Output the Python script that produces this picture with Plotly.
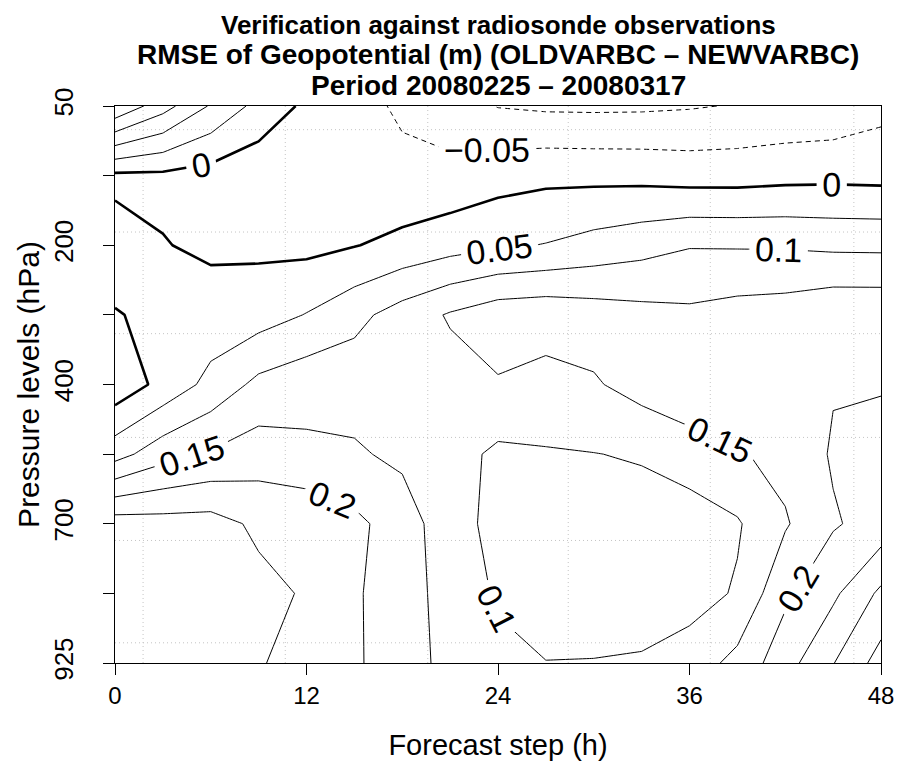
import plotly.graph_objects as go

# ---- data ----
steps = [0, 3, 6, 9, 12, 15, 18, 21, 24, 27, 30, 33, 36, 39, 42, 45, 48]
levels = [50, 100, 200, 300, 400, 500, 700, 850, 925]
labelled_levels = [50, 200, 400, 700, 925]

# RMSE difference (m), one list per pressure level, values per forecast step
z_50 = [0.245, 0.17, 0.095, 0.034, -0.01, -0.037, -0.056, -0.078, -0.102, -0.108, -0.109, -0.108, -0.104, -0.097, -0.09, -0.085, -0.065]
z_100 = [-0.01, -0.01, -0.02, -0.033, -0.03, -0.035, -0.04, -0.035, -0.02, -0.012, -0.013, -0.0144, -0.02, -0.02, -0.015, -0.013, -0.015]
z_200 = [0.018, 0.002, -0.008, -0.01, -0.013, -0.002, 0.014, 0.03, 0.043, 0.052, 0.068, 0.082, 0.097, 0.096, 0.095, 0.09, 0.089]
z_300 = [-0.002, 0.008, 0.02, 0.028, 0.052, 0.085, 0.122, 0.155, 0.18, 0.185, 0.175, 0.166, 0.16, 0.17, 0.175, 0.19, 0.19]
z_400 = [-0.034, 0.015, 0.065, 0.113, 0.132, 0.13, 0.13, 0.13, 0.145, 0.125, 0.1445, 0.17, 0.18, 0.196, 0.197, 0.197, 0.199]
z_500 = [0.08, 0.13, 0.155, 0.175, 0.16, 0.156, 0.14, 0.12, 0.09, 0.097, 0.099, 0.104, 0.13, 0.145, 0.165, 0.205, 0.205]
z_700 = [0.275, 0.27, 0.27, 0.24, 0.24, 0.212, 0.175, 0.12, 0.085, 0.08, 0.08, 0.08, 0.07, 0.095, 0.145, 0.195, 0.22]
z_850 = [0.28, 0.28, 0.28, 0.265, 0.245, 0.205, 0.178, 0.125, 0.095, 0.088, 0.086, 0.09, 0.08, 0.105, 0.19, 0.24, 0.31]
z_925 = [0.28, 0.28, 0.285, 0.253, 0.235, 0.205, 0.18, 0.13, 0.11, 0.1005, 0.101, 0.102, 0.123, 0.165, 0.23, 0.298, 0.37]

z = [z_50, z_100, z_200, z_300, z_400, z_500, z_700, z_850, z_925]
level_pos = list(range(len(levels)))

title_lines = [
    "Verification against radiosonde observations",
    "RMSE of Geopotential (m) (OLDVARBC \u2013 NEWVARBC)",
    "Period 20080225 \u2013 20080317",
]

# ---- style ----
FONT = "Liberation Sans, Arial, Helvetica, sans-serif"
grid_x = [1.76, 10.67, 19.6, 28.4, 37.3, 46.3]
grid_y = [0.34, 1.81, 3.27, 4.76, 6.24, 7.71]
black = [[0, "black"], [1, "black"]]
title_sizes = [26, 28, 28]
title_py = [25, 55, 85]          # page y of title line centres
PLOT_BOTTOM, PLOT_H = 663, 557   # page y of plot bottom, plot height

fig = go.Figure()

def contour_trace(start, end, width, dash):
    return go.Contour(
        x=steps, y=level_pos, z=z,
        showscale=False, colorscale=black,
        hoverinfo="skip",
        line=dict(width=width, dash=dash, smoothing=0),
        contours=dict(
            coloring="lines", start=start, end=end, size=0.05,
            showlabels=True, labelformat=".2~f",
            labelfont=dict(size=34, color="black", family=FONT),
        ),
    )

fig.add_trace(contour_trace(-0.1, -0.05, 1, "5px,4px"))
fig.add_trace(contour_trace(0.0, 0.04, 2.6, "solid"))
fig.add_trace(contour_trace(0.05, 0.35, 1, "solid"))

shapes = []
for gx in grid_x:
    shapes.append(dict(type="line", xref="x", yref="paper", x0=gx, x1=gx, y0=0, y1=1,
                       line=dict(color="#c4c4c4", width=1, dash="1px,3px"), layer="below"))
for gy in grid_y:
    shapes.append(dict(type="line", xref="paper", yref="y", x0=0, x1=1, y0=gy, y1=gy,
                       line=dict(color="#c4c4c4", width=1, dash="1px,3px"), layer="below"))

annotations = []
for txt, py, fs in zip(title_lines, title_py, title_sizes):
    annotations.append(dict(text="<b>%s</b>" % txt, xref="paper", yref="paper",
                            x=0.5, y=(PLOT_BOTTOM - py) / PLOT_H, xanchor="center", yanchor="middle",
                            showarrow=False, borderpad=0,
                            font=dict(size=fs, family=FONT, color="black")))

# the page body adds an 8px margin, so the figure is 8px smaller on each side
fig.update_layout(
    width=894, height=754,
    margin=dict(l=107, r=21, t=98, b=99, autoexpand=False),
    paper_bgcolor="white", plot_bgcolor="white",
    shapes=shapes, annotations=annotations,
    font=dict(family=FONT, color="black"),
)
fig.update_xaxes(
    range=[0, 48], tickvals=[0, 12, 24, 36, 48], ticktext=["0", "12", "24", "36", "48"],
    ticks="outside", ticklen=11, tickcolor="black", tickwidth=1,
    showline=True, linecolor="black", linewidth=1, mirror=True,
    showgrid=False, zeroline=False, automargin=False,
    tickfont=dict(size=24, family=FONT, color="black"),
    title=dict(text="Forecast step (h)", font=dict(size=29, family=FONT, color="black"), standoff=26),
)
fig.update_yaxes(
    range=[len(levels) - 1, 0], tickvals=level_pos,
    ticktext=[str(l) if l in labelled_levels else "" for l in levels],
    tickangle=-90, ticklabelstandoff=20,
    ticks="outside", ticklen=11, tickcolor="black", tickwidth=1,
    showline=True, linecolor="black", linewidth=1, mirror=True,
    showgrid=False, zeroline=False, automargin=False,
    tickfont=dict(size=26, family=FONT, color="black"),
    title=dict(text="Pressure levels (hPa)", font=dict(size=30, family=FONT, color="black"), standoff=0),
)

fig.write_html("out.html")
